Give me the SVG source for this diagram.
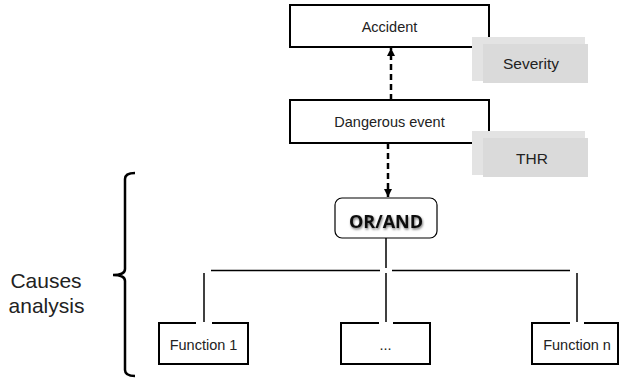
<svg xmlns="http://www.w3.org/2000/svg" width="619" height="380" viewBox="0 0 619 380">
<defs>
<style>
.box{fill:#fff;stroke:#000;stroke-width:2}
.lbl{font-family:"Liberation Sans",Arial,sans-serif;font-size:14.5px;fill:#222;text-anchor:middle}
.glbl{font-family:"Liberation Sans",Arial,sans-serif;font-size:15.5px;fill:#222;text-anchor:middle}
.side{font-family:"Liberation Sans",Arial,sans-serif;font-size:21px;fill:#222;text-anchor:middle}
.gA{fill:#e3e3e3}
.gB{fill:#dadada}
.dash{fill:none;stroke:#000;stroke-width:2.5;stroke-dasharray:6 4}
.tree{fill:none;stroke:#000;stroke-width:1.5}
.gap{stroke:#fff;stroke-width:3}
</style>
<marker id="ah" markerUnits="userSpaceOnUse" markerWidth="9" markerHeight="9" refX="8" refY="4" orient="auto">
<path d="M0,0 L8,4 L0,8 z" fill="#000"/>
</marker>
<filter id="ts" x="-20%" y="-40%" width="140%" height="180%">
<feDropShadow dx="0.8" dy="1.5" stdDeviation="1.2" flood-color="#000" flood-opacity="0.55"/>
</filter>
</defs>

<g id="accident">
<rect class="box" x="290" y="5" width="199" height="42"/>
<text class="lbl" x="389.5" y="32">Accident</text>
</g>
<g id="severity">
<rect class="gA" x="472" y="37" width="113" height="44"/>
<rect class="gB" x="483" y="44" width="105" height="39"/>
<text class="glbl" x="531" y="69">Severity</text>
</g>

<g id="dangerous-event">
<rect class="box" x="290" y="100" width="199" height="43"/>
<text class="lbl" x="389.5" y="127">Dangerous event</text>
</g>
<g id="thr">
<rect class="gA" x="472" y="131" width="113" height="44"/>
<rect class="gB" x="483" y="138" width="105" height="39"/>
<text class="glbl" x="532" y="164">THR</text>
</g>

<g id="or-and">
<rect x="335" y="198" width="102" height="40" rx="7" fill="#fff" stroke="#000" stroke-width="1.2"/>
<text x="386" y="228" font-family="'Open Sans',Lato,sans-serif" font-weight="700" font-size="18" fill="#111" text-anchor="middle" filter="url(#ts)">OR/AND</text>
</g>

<g id="function-1">
<rect class="box" x="159" y="323" width="89" height="41"/>
<text class="lbl" x="203.5" y="350">Function 1</text>
</g>
<g id="function-dots">
<rect class="box" x="341" y="323" width="89" height="41"/>
<text class="lbl" x="385.5" y="350">...</text>
</g>
<g id="function-n">
<rect class="box" x="532" y="323" width="86" height="41"/>
<text class="lbl" x="577" y="350">Function n</text>
</g>

<g id="connectors">
<line class="dash" x1="391" y1="100" x2="391" y2="48" marker-end="url(#ah)"/>
<line class="dash" x1="388" y1="143" x2="388" y2="197" marker-end="url(#ah)"/>
<line class="tree" x1="386" y1="238" x2="386" y2="268"/>
<line class="tree" x1="211" y1="270.5" x2="380" y2="270.5"/>
<line class="tree" x1="392" y1="270.5" x2="570" y2="270.5"/>
<line class="gap" x1="196" y1="323" x2="212" y2="323"/>
<line class="gap" x1="379" y1="323" x2="393" y2="323"/>
<line class="gap" x1="570" y1="323" x2="584" y2="323"/>
<line class="tree" x1="204" y1="273" x2="204" y2="322"/>
<line class="tree" x1="386" y1="273" x2="386" y2="322"/>
<line class="tree" x1="577" y1="273" x2="577" y2="322"/>
</g>

<g id="causes-analysis">
<path d="M135,173 Q125,173 125,179 L125,269 Q125,275 113,275 Q125,275 125,281 L125,370 Q125,376 135,376" fill="none" stroke="#000" stroke-width="2.5"/>
<text class="side" x="46" y="288">Causes</text>
<text class="side" x="46.5" y="313">analysis</text>
</g>
</svg>
